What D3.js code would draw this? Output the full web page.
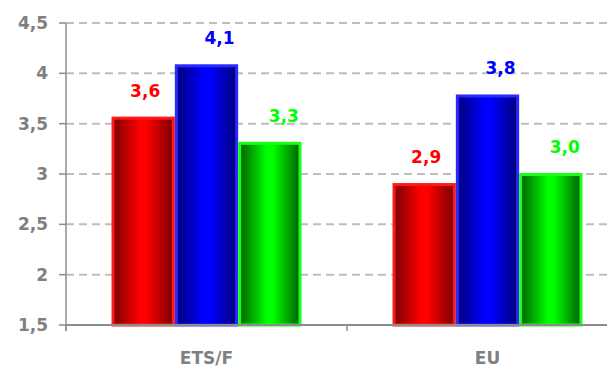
<!DOCTYPE html>
<html><head><meta charset="utf-8">
<script src="https://cdn.jsdelivr.net/npm/d3@7"></script>
<style>body{margin:0;background:#fff}svg{display:block}</style>
</head><body>
<svg id="c" width="607" height="368"></svg>
<script>
const categories = ["ETS/F", "EU"];
const seriesNames = ["A", "B", "C"];
const seriesRed = [3.57, 2.91];
const seriesBlue = [4.09, 3.79];
const seriesGreen = [3.32, 3.01];
const labelRed = ["3,6", "2,9"];
const labelBlue = ["4,1", "3,8"];
const labelGreen = ["3,3", "3,0"];
const yTicks = [1.5, 2, 2.5, 3, 3.5, 4, 4.5];
const yTickLabels = ["1,5", "2", "2,5", "3", "3,5", "4", "4,5"];

const styles = [
  {dark:"#7a0000", bright:"#ff0000", stroke:"#ff1a1a", dx:2},
  {dark:"#00007a", bright:"#0000ff", stroke:"#2a2aff", dx:13},
  {dark:"#006000", bright:"#00ff00", stroke:"#1aff1a", dx:14}
];
const seriesVals = [seriesRed, seriesBlue, seriesGreen];
const seriesLabels = [labelRed, labelBlue, labelGreen];
const font = "'DejaVu Sans', sans-serif";
const gray = "#808080";

const svg = d3.select("#c");
const y = d3.scaleLinear().domain([1.5, 4.5]).range([325, 23]);
const x = d3.scaleBand().domain(categories).range([66, 628]).paddingInner(0.324).paddingOuter(0.162);
const xs = d3.scaleBand().domain(seriesNames).range([0, x.bandwidth()]);

const defs = svg.append("defs");
styles.forEach((s, i) => {
  const g = defs.append("linearGradient").attr("id", "g" + i).attr("x1", "0").attr("x2", "1").attr("y1", "0").attr("y2", "0");
  g.append("stop").attr("offset", "0").attr("stop-color", s.dark);
  g.append("stop").attr("offset", "0.45").attr("stop-color", s.bright);
  g.append("stop").attr("offset", "0.55").attr("stop-color", s.bright);
  g.append("stop").attr("offset", "1").attr("stop-color", s.dark);
});

// grid
svg.append("g").selectAll("line").data(yTicks.slice(1)).join("line")
  .attr("x1", 66).attr("x2", 607).attr("y1", d => y(d)).attr("y2", d => y(d))
  .attr("stroke", "#bdbdbd").attr("stroke-width", 2).attr("stroke-dasharray", "8,5");

// bars
seriesVals.forEach((vals, si) => {
  const s = styles[si];
  svg.append("g").selectAll("rect").data(categories).join("rect")
    .attr("x", (c) => x(c) + xs(seriesNames[si]) + 1.5)
    .attr("width", xs.bandwidth() - 3)
    .attr("y", (c, i) => y(vals[i]) + 1.5)
    .attr("height", (c, i) => y(1.5) - y(vals[i]) - 1.5)
    .attr("fill", `url(#g${si})`).attr("stroke", s.stroke).attr("stroke-width", 3);
  svg.append("g").selectAll("text").data(categories).join("text")
    .attr("x", (c) => x(c) + xs(seriesNames[si]) + xs.bandwidth() / 2 + s.dx)
    .attr("y", (c, i) => y(vals[i]) - 20)
    .attr("text-anchor", "middle").attr("font-family", font).attr("font-weight", "bold")
    .attr("font-size", 17).attr("fill", s.bright)
    .text((c, i) => seriesLabels[si][i]);
});

// y axis
const ya = svg.append("g");
ya.append("line").attr("x1", 66).attr("x2", 66).attr("y1", y(4.5)).attr("y2", 331).attr("stroke", "#8c8c8c").attr("stroke-width", 1.5);
ya.selectAll(".t").data(yTicks).join("line").attr("class", "t")
  .attr("x1", 59).attr("x2", 66).attr("y1", d => y(d)).attr("y2", d => y(d)).attr("stroke", "#8c8c8c").attr("stroke-width", 1.5);
ya.selectAll("text").data(yTicks).join("text")
  .attr("x", 48).attr("y", d => y(d) + 6).attr("text-anchor", "end")
  .attr("font-family", font).attr("font-weight", "bold").attr("font-size", 17).attr("fill", gray)
  .text((d, i) => yTickLabels[i]);

// x axis
const xa = svg.append("g");
xa.append("line").attr("x1", 66).attr("x2", 607).attr("y1", 325).attr("y2", 325).attr("stroke", "#8c8c8c").attr("stroke-width", 2);
xa.selectAll(".t").data([66, x.step() + 66]).join("line").attr("class", "t")
  .attr("x1", d => d).attr("x2", d => d).attr("y1", 325).attr("y2", 331).attr("stroke", "#8c8c8c").attr("stroke-width", 1.5);
xa.selectAll("text").data(categories).join("text")
  .attr("x", c => x(c) + x.bandwidth() / 2).attr("y", 364).attr("text-anchor", "middle")
  .attr("font-family", font).attr("font-weight", "bold").attr("font-size", 17).attr("fill", gray)
  .text(c => c);
</script>
</body></html>
